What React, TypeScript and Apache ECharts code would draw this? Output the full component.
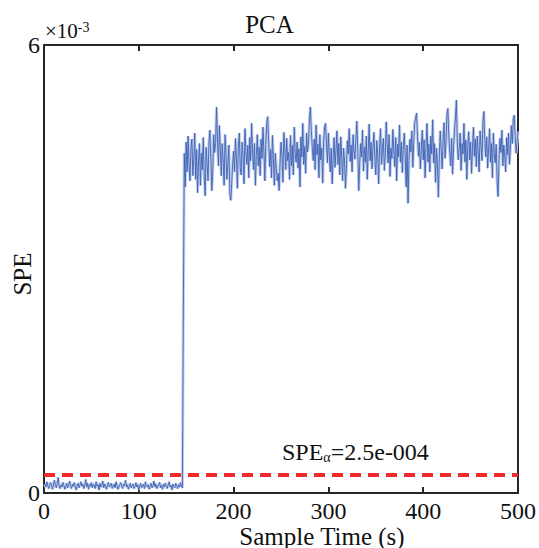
import React, { useEffect, useRef } from "react";
import * as echarts from "echarts";

// SPE values in units of 1e-3, samples 1..146 (normal operation)
const preFault: number[] = [
  0.12,0.08,0.15,0.10,0.06,0.11,0.14,0.09,0.05,0.12,
  0.17,0.10,0.07,0.13,0.21,0.09,0.06,0.11,0.08,0.14,
  0.10,0.05,0.09,0.13,0.07,0.11,0.16,0.10,0.06,0.12,
  0.09,0.14,0.08,0.04,0.10,0.13,0.07,0.11,0.15,0.09,
  0.12,0.06,0.10,0.18,0.08,0.13,0.05,0.11,0.09,0.14,
  0.07,0.12,0.10,0.06,0.15,0.09,0.11,0.04,0.13,0.08,
  0.10,0.16,0.07,0.12,0.09,0.05,0.11,0.14,0.08,0.10,
  0.13,0.06,0.09,0.12,0.07,0.15,0.10,0.05,0.08,0.11,
  0.14,0.09,0.06,0.12,0.10,0.17,0.08,0.11,0.05,0.09,
  0.13,0.07,0.10,0.12,0.06,0.09,0.14,0.08,0.11,0.04,
  0.10,0.13,0.07,0.09,0.12,0.06,0.15,0.10,0.08,0.11,
  0.05,0.09,0.13,0.07,0.10,0.16,0.08,0.12,0.06,0.09,
  0.11,0.14,0.07,0.10,0.05,0.12,0.08,0.13,0.09,0.06,
  0.11,0.15,0.08,0.10,0.04,0.12,0.09,0.07,0.13,0.10,
  0.06,0.11,0.08,0.14,0.09,0.07,
];
// sample 147 (transition)
const transition: number[] = [2.48];
// samples 148..500 (fault)
const postFault: number[] = [
  4.55,4.10,4.70,4.30,4.78,4.40,4.18,4.62,4.74,4.25,
  4.48,4.82,4.20,4.60,4.02,4.45,4.68,4.12,4.55,4.33,
  4.76,4.24,3.98,4.63,4.42,4.18,4.70,4.86,4.50,4.05,
  4.30,4.80,4.56,4.68,5.17,4.74,4.38,4.92,4.60,4.25,
  4.68,4.46,4.12,4.80,4.52,4.20,4.43,4.66,4.02,3.92,
  4.15,4.40,4.58,4.30,4.75,4.48,4.08,4.63,4.82,4.36,
  4.26,4.70,4.50,4.14,4.88,4.56,4.40,4.66,4.22,4.76,
  4.45,4.95,4.58,4.33,4.68,4.12,4.52,4.80,4.38,4.63,
  4.25,4.74,4.48,4.90,4.56,4.18,4.67,4.96,5.04,4.70,
  4.37,4.60,4.22,4.79,4.46,4.12,4.55,4.35,4.18,4.28,
  4.05,4.42,4.70,4.52,4.16,4.83,4.62,4.33,4.75,4.45,
  4.56,4.20,4.79,4.38,4.66,4.26,4.90,4.53,4.43,4.70,
  4.35,4.61,4.10,4.77,4.50,4.95,4.40,4.64,4.28,4.82,
  4.57,4.68,5.00,5.17,4.85,4.62,4.45,4.74,4.33,4.93,
  4.53,4.67,4.22,4.80,4.46,4.62,4.15,4.72,4.90,4.95,
  4.65,4.42,4.82,4.53,4.30,4.62,4.14,4.48,4.76,4.36,
  4.59,4.85,4.40,4.68,4.26,4.77,4.51,4.18,4.62,4.45,
  4.08,4.35,4.72,4.54,4.88,4.44,4.66,4.30,4.80,4.57,
  4.47,4.74,4.98,4.60,4.05,4.40,4.68,4.50,4.86,4.31,
  4.63,4.43,4.78,4.20,4.58,4.94,4.45,4.70,4.34,4.62,
  4.83,4.48,4.26,4.72,4.54,4.14,4.65,4.88,4.40,4.61,
  4.75,4.32,4.53,4.97,4.67,4.42,4.80,4.24,4.62,4.48,
  4.87,4.58,4.37,4.76,4.18,4.67,4.50,4.93,4.43,4.70,
  4.29,4.62,4.82,4.53,4.10,4.66,3.88,4.45,4.74,4.57,
  4.85,4.36,4.68,4.96,5.02,5.09,4.77,4.51,4.70,4.34,
  4.60,4.86,4.46,4.73,4.22,4.63,4.95,4.43,4.67,4.30,
  4.78,4.54,5.00,4.42,4.68,4.16,4.62,4.40,3.96,4.51,
  4.85,4.60,4.34,4.74,4.96,4.48,4.67,5.06,5.15,4.80,
  4.57,4.38,4.75,4.27,4.62,4.86,5.02,5.26,4.70,4.46,
  4.60,4.82,4.32,4.68,4.54,4.95,4.43,4.73,4.20,4.63,
  4.84,4.46,4.70,4.28,4.62,4.90,4.51,4.74,4.37,4.78,
  4.57,4.30,4.85,4.65,4.45,4.98,5.11,4.72,4.50,4.77,
  4.35,4.60,4.88,4.43,4.68,4.22,4.82,4.55,4.42,4.67,
  4.15,3.97,4.48,4.75,4.56,4.86,4.38,4.66,4.51,4.30,
  4.76,4.53,4.82,4.40,4.63,4.92,4.68,5.00,5.06,4.78,
  4.55,4.70,4.84,
];

const SPE_LIMIT = 0.25; // 2.5e-4 in units of 1e-3
const X_MIN = 0;
const X_MAX = 500;
const X_INTERVAL = 100;
const Y_MIN = 0;
const Y_MAX = 6;

const FONT = "Liberation Serif, Times New Roman, serif";

export default function App() {
  const ref = useRef<HTMLDivElement>(null);
  useEffect(() => {
    if (!ref.current) return;
    const chart = echarts.init(ref.current, undefined, { renderer: "svg" });
    const values = [...preFault, ...transition, ...postFault];
    const data = values.map((v, i) => [i + 1, v]);
    const axisColor = "#262626";
    chart.setOption({
      animation: false,
      backgroundColor: "#ffffff",
      title: {
        text: "PCA",
        left: "center",
        top: 7,
        textStyle: { fontFamily: FONT, fontSize: 25, fontWeight: "normal", color: "#111" },
      },
      grid: { left: 44, right: 19, top: 45, bottom: 55, containLabel: false },
      xAxis: [
        {
          type: "value",
          min: X_MIN,
          max: X_MAX,
          interval: X_INTERVAL,
          position: "bottom",
          axisLine: { show: true, onZero: false, lineStyle: { color: axisColor, width: 2 } },
          axisTick: { show: true, inside: true, length: 6, lineStyle: { color: axisColor, width: 2 } },
          axisLabel: { fontFamily: FONT, fontSize: 24, color: "#111", margin: 6 },
          splitLine: { show: false },
        },
        {
          type: "value",
          min: X_MIN,
          max: X_MAX,
          interval: X_INTERVAL,
          position: "top",
          axisLine: { show: true, onZero: false, lineStyle: { color: axisColor, width: 2 } },
          axisTick: { show: true, inside: true, length: 6, lineStyle: { color: axisColor, width: 2 } },
          axisLabel: { show: false },
          splitLine: { show: false },
        },
      ],
      yAxis: [
        {
          type: "value",
          min: Y_MIN,
          max: Y_MAX,
          interval: 6,
          position: "left",
          axisLine: { show: true, onZero: false, lineStyle: { color: axisColor, width: 2 } },
          axisTick: { show: false },
          axisLabel: { fontFamily: FONT, fontSize: 24, color: "#111", margin: 4 },
          splitLine: { show: false },
        },
        {
          type: "value",
          min: Y_MIN,
          max: Y_MAX,
          interval: 6,
          position: "right",
          axisLine: { show: true, onZero: false, lineStyle: { color: axisColor, width: 2 } },
          axisTick: { show: false },
          axisLabel: { show: false },
          splitLine: { show: false },
        },
      ],
      series: [
        {
          type: "line",
          data,
          showSymbol: false,
          symbol: "none",
          lineStyle: { color: "#c4cfeb", width: 3 },
          z: 2,
        },
        {
          type: "line",
          data,
          showSymbol: false,
          symbol: "none",
          lineStyle: { color: "#3d62b6", width: 0.9 },
          z: 3,
          markLine: {
            silent: true,
            symbol: "none",
            label: { show: false },
            lineStyle: { color: "#ee2a2e", width: 4, type: [11, 7] },
            data: [{ yAxis: SPE_LIMIT }],
            z: 5,
          },
        },
      ],
      graphic: [
        {
          type: "text",
          left: 45,
          top: 20,
          style: {
            text: "{a|×10}{b|-3}",
            rich: {
              a: { fontFamily: FONT, fontSize: 21, fill: "#111" },
              b: { fontFamily: FONT, fontSize: 14, fill: "#111", verticalAlign: "top" },
            },
          },
        },
        {
          type: "text",
          x: 282,
          y: 452,
          style: {
            text: "{n|SPE}{s|α}{n|=2.5e-004}",
            textVerticalAlign: "middle",
            rich: {
              n: { fontFamily: FONT, fontSize: 24, fill: "#111" },
              s: { fontFamily: FONT, fontSize: 14, fill: "#111", verticalAlign: "bottom" },
            },
          },
        },
        {
          type: "text",
          x: 322,
          y: 536,
          style: {
            text: "Sample Time (s)",
            fontFamily: FONT,
            fontSize: 25,
            fill: "#111",
            textAlign: "center",
            textVerticalAlign: "middle",
          },
        },
        {
          type: "text",
          x: 22,
          y: 274,
          rotation: Math.PI / 2,
          style: {
            text: "SPE",
            fontFamily: FONT,
            fontSize: 25,
            fill: "#111",
            textAlign: "center",
            textVerticalAlign: "middle",
          },
        },
      ],
    });
    return () => chart.dispose();
  }, []);
  return <div ref={ref} style={{ width: 539, height: 548, position: "absolute", left: 0, top: 0 }} />;
}
